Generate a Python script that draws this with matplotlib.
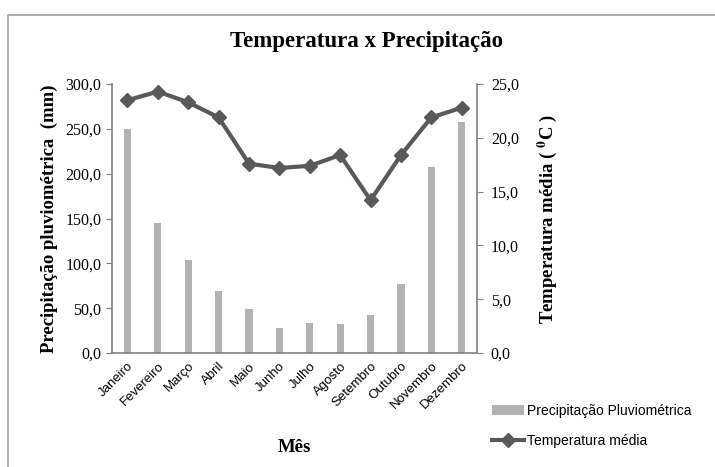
import matplotlib.pyplot as plt
from matplotlib.lines import Line2D
import numpy as np

# dados
meses = ["Janeiro", "Fevereiro", "Março", "Abril", "Maio", "Junho",
         "Julho", "Agosto", "Setembro", "Outubro", "Novembro", "Dezembro"]
precipitacao = [249.5, 145.3, 103.7, 69.5, 49.5, 27.9, 33.4, 32.0, 42.4, 76.6, 207.8, 258.0]
temperatura = [23.5, 24.3, 23.3, 21.9, 17.6, 17.2, 17.4, 18.4, 14.2, 18.4, 21.9, 22.8]
ticks_prec = [0, 50, 100, 150, 200, 250, 300]
ticks_temp = [0, 5, 10, 15, 20, 25]

serif = "Liberation Serif"
sans = "Liberation Sans"
plt.rcParams["mathtext.fontset"] = "stix"
cinza_eixo = "#808080"

fig = plt.figure(figsize=(7.15, 4.67), dpi=100)
# moldura da area do grafico (so aparecem a borda de cima e a da esquerda)
fig.lines.append(Line2D([0.011, 0.011, 1.0], [0.0, 0.968, 0.968], transform=fig.transFigure,
                        color="#a0a0a0", linewidth=1.2))

ax = fig.add_axes([0.157, 0.244, 0.510, 0.576])
x = np.arange(len(meses))
barras = ax.bar(x, precipitacao, width=0.24, color="#b3b3b3", label="Precipitação Pluviométrica")
ax.set_ylim(0, 300)
ax.set_xlim(-0.5, len(meses) - 0.5)
ax.set_yticks(ticks_prec)
ax.set_yticklabels([f"{v:.1f}".replace(".", ",") for v in ticks_prec], fontfamily=serif, fontsize=11.5)
ax.set_xticks(x)
ax.set_xticklabels(meses, rotation=45, ha="right", rotation_mode="anchor", fontfamily=sans, fontsize=9.5)
ax.tick_params(axis="x", length=0, pad=5)
ax.tick_params(axis="y", length=4, color=cinza_eixo, direction="out", pad=4)
for s in ["top", "right"]:
    ax.spines[s].set_visible(False)
for s in ["left", "bottom"]:
    ax.spines[s].set_color(cinza_eixo)
    ax.spines[s].set_linewidth(1.2)
ax.set_ylabel("Precipitação pluviométrica  (mm)", fontfamily=serif, fontsize=13.5, fontweight="bold", labelpad=5)
ax.set_xlabel("Mês", fontfamily=serif, fontsize=13.5, fontweight="bold", labelpad=20)

ax2 = ax.twinx()
linha, = ax2.plot(x, temperatura, color="#595959", linewidth=3, marker="D", markersize=7.5,
                  label="Temperatura média")
ax2.set_ylim(0, 25)
ax2.set_yticks(ticks_temp)
ax2.set_yticklabels([f"{v:.1f}".replace(".", ",") for v in ticks_temp], fontfamily=serif, fontsize=11.5)
ax2.tick_params(axis="y", length=4, color=cinza_eixo, direction="out", pad=6)
for s in ["top", "left", "bottom"]:
    ax2.spines[s].set_visible(False)
ax2.spines["right"].set_color(cinza_eixo)
ax2.spines["right"].set_linewidth(1.2)
ax2.set_ylabel(r"Temperatura média ( $^{\mathbf{0}}$C )", fontfamily=serif, fontsize=13.5,
               fontweight="bold", labelpad=12)

fig.text(0.513, 0.912, "Temperatura x Precipitação", ha="center", va="center",
         fontfamily=serif, fontsize=16.5, fontweight="bold")

fig.legend([barras, linha], ["Precipitação Pluviométrica", "Temperatura média"],
           loc="center left", bbox_to_anchor=(0.671, 0.088), frameon=False,
           prop={"family": sans, "size": 10}, handlelength=2.3, handletextpad=0.2,
           labelspacing=1.15)

fig.savefig("out.png", dpi=100)
